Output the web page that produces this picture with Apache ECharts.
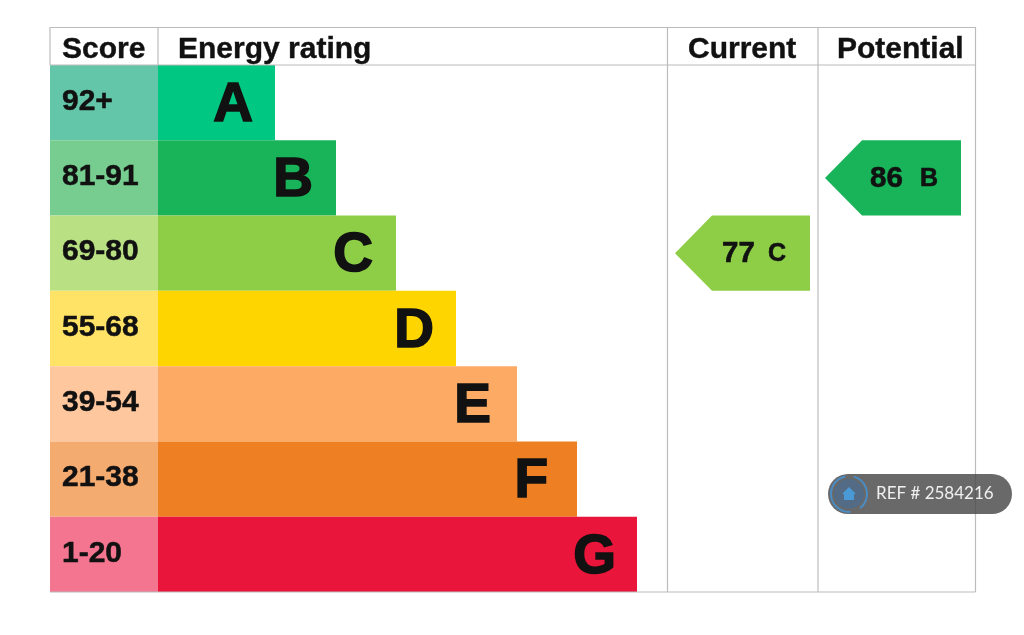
<!DOCTYPE html>
<html><head><meta charset="utf-8">
<style>html,body{margin:0;padding:0;background:#fff}#c{width:1024px;height:635px}</style>
<script src="https://cdn.jsdelivr.net/npm/echarts@6/dist/echarts.min.js"></script>
</head><body><div id="c"></div>
<script>
const ratings = ['A','B','C','D','E','F','G'];
const scoreRanges = ['92+','81-91','69-80','55-68','39-54','21-38','1-20'];
const scoreColumn = [108,108,108,108,108,108,108];
const barLengths = [117,178,238,298,359,419,479];
const barColors = ['#00c781','#19b459','#8dce46','#ffd500','#fdaa65','#ee8023','#e9153b'];
const bandColors = ['#64c6a8','#76cd8f','#b9e083','#ffe366','#ffc79e','#f4ab70','#f37590'];
const headers = ['Score','Energy rating','Current','Potential'];
const currentScore = [77,'C'];
const potentialScore = [86,'B'];
const refText = 'REF # 2584216';

const FONT = '"Liberation Sans", Arial, sans-serif';
const INK = '#111';
const LINE = '#bcbcbc';
const G = {left:50, top:65, width:925, height:527};
const letterInset = [22,23,23,22,26,29,21];

function arrowItem(colStart, numInset, width){
  return function(params, api){
    const row = api.value(1);
    const p = api.coord([colStart, row]);
    const h = api.size([0,1])[1];
    const L = p[0], R = L + width, T = p[1]-h/2, B = p[1]+h/2, M = L + 37;
    const color = barColors[row];
    return {type:'group', children:[
      {type:'polygon', shape:{points:[[L,p[1]],[M,T],[R,T],[R,B],[M,B]]}, style:{fill:color}},
      {type:'text', style:{x:L+numInset,y:p[1]+1,text:String(api.value(0)),font:'bold 29.5px '+FONT,fill:INK,stroke:INK,lineWidth:.6,textVerticalAlign:'middle'}},
      {type:'text', style:{x:L+(numInset===47?93:95),y:p[1]+1,text:ratings[row],font:'bold 25px '+FONT,fill:INK,stroke:INK,lineWidth:.6,textVerticalAlign:'middle'}}
    ]};
  };
}
const hdr = (x,text)=>({type:'text',z:20,style:{x,y:50,text,font:'bold 30px '+FONT,fill:INK,stroke:INK,lineWidth:.4,textVerticalAlign:'middle'}});
const ln = (x1,y1,x2,y2)=>({type:'line',z:15,shape:{x1,y1,x2,y2},style:{stroke:LINE,lineWidth:1.2}});

const chart = echarts.init(document.getElementById('c'),null,{renderer:'canvas'});
chart.setOption({
  animation:false,
  backgroundColor:'#fff',
  grid:{left:G.left,top:G.top,width:G.width,height:G.height,containLabel:false},
  xAxis:{type:'value',min:0,max:G.width,show:false},
  yAxis:{type:'category',data:ratings,inverse:true,show:false},
  series:[
    {type:'bar',stack:'r',barWidth:'100%',z:3,silent:true,
     data:scoreColumn.map((v,i)=>({value:v,itemStyle:{color:bandColors[i]},
       label:{show:true,position:'insideLeft',distance:12,offset:[0,-1],formatter:scoreRanges[i],
              fontSize:30,fontWeight:'bold',fontFamily:'Liberation Sans',color:INK,
              textBorderColor:INK,textBorderWidth:.5}}))},
    {type:'bar',stack:'r',barWidth:'100%',z:3,silent:true,
     data:barLengths.map((v,i)=>({value:v,itemStyle:{color:barColors[i]},
       label:{show:true,position:'insideRight',distance:letterInset[i],offset:[0,3],formatter:ratings[i],
              fontSize:55,fontWeight:'bold',fontFamily:'Liberation Sans',color:INK,
              textBorderColor:INK,textBorderWidth:1.6}}))},
    {type:'custom',z:4,silent:true,renderItem:arrowItem(625,47,135),encode:{x:0,y:1},
     data:[[currentScore[0],ratings.indexOf(currentScore[1])]]},
    {type:'custom',z:4,silent:true,renderItem:arrowItem(775,45,136),encode:{x:0,y:1},
     data:[[potentialScore[0],ratings.indexOf(potentialScore[1])]]}
  ],
  graphic:[
    ln(50,27.5,975.5,27.5), ln(50,65,975.5,65), ln(50,592,975.5,592),
    ln(50,27,50,65), ln(158,27,158,65), ln(667.5,27,667.5,592), ln(818,27,818,592), ln(975.5,27,975.5,592),
    hdr(62,headers[0]), hdr(178,headers[1]), hdr(688,headers[2]), hdr(837,headers[3]),
    {type:'group',z:30,children:[
      {type:'rect',z:30,shape:{x:828,y:474,width:184,height:40,r:20},style:{fill:'rgba(72,72,72,0.82)'}},
      {type:'circle',z:31,shape:{cx:849,cy:494,r:15},style:{fill:'rgba(66,110,155,0.55)'}},
      {type:'arc',z:31,shape:{cx:849,cy:494,r:18,startAngle:-1.3,endAngle:0.9},style:{stroke:'#4a8cc4',lineWidth:2,fill:null}},
      {type:'arc',z:31,shape:{cx:849,cy:494,r:18,startAngle:1.5,endAngle:4.5},style:{stroke:'#4a8cc4',lineWidth:2,fill:null}},
      {type:'polygon',z:32,shape:{points:[[842,494],[849,487],[856,494],[854,494],[854,500],[844,500],[844,494]]},style:{fill:'#4a9ad8'}},
      {type:'text',z:32,style:{x:876,y:494,text:refText,font:'400 17px Lato, "Open Sans", sans-serif',fill:'#f0f0f0',textVerticalAlign:'middle'}}
    ]}
  ]
});
</script></body></html>
